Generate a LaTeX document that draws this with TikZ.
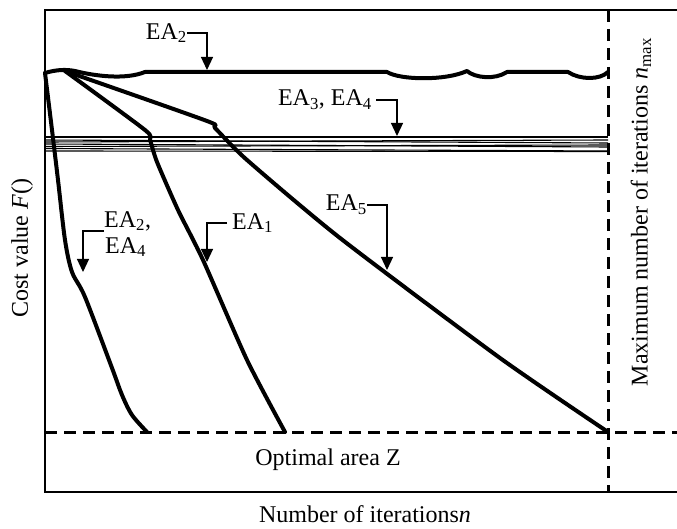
\documentclass[tikz,border=0pt]{standalone}
\usepackage{fontspec}
\setmainfont{Liberation Serif}
\usetikzlibrary{arrows.meta}
\begin{document}
\begin{tikzpicture}[x=1pt,y=-1pt,
  frame/.style={line width=2pt},
  curve/.style={line width=4pt,line join=round,line cap=round},
  dashln/.style={line width=3pt,dash pattern=on 12pt off 7pt},
  thin/.style={line width=1.1pt},
  arr/.style={line width=1.2pt,-{Triangle[length=13pt,width=12pt]}},
  lab/.style={font=\fontsize{24}{26}\selectfont,inner sep=0pt},
  every node/.style={font=\fontsize{24}{26}\selectfont}]
\useasboundingbox (0,0) rectangle (677,529);
% frame
\draw[frame] (677,10) -- (45,10) -- (45,492) -- (677,492);
% dashed lines
\draw[dashln] (608,10) -- (608,492);
\draw[dashln] (45,432) -- (677,432);
% bundle of EA3, EA4
\draw[line width=2pt] (45,137.5) -- (608,137.5);
\draw[thin] (45,140) -- (608,143);
\draw[thin] (45,142) -- (608,140);
\draw[thin] (45,144) -- (608,147);
\draw[thin] (45,146.5) -- (608,145);
\draw[thin] (45,148.5) -- (608,151);
\draw[thin] (45,151) -- (608,151.5);
% EA2 top wavy curve
\draw[curve] (45,73) .. controls (55,70) and (65,69) .. (75,71)
  .. controls (95,76) and (125,80) .. (145,72) -- (387,72)
  .. controls (400,80) and (445,81) .. (467,71)
  .. controls (475,78) and (495,80) .. (507,72) -- (568,72)
  .. controls (580,80) and (600,80) .. (608,72);
% EA2, EA4 steep curve
\draw[curve] plot[smooth,tension=0.5] coordinates {(45,73) (52,130) (58,180) (65,240) (72,272) (85,297) (112,368) (122,395) (132,415) (147,432)};
% EA1
\draw[curve] plot[smooth,tension=0.4] coordinates {(65,71) (145,130) (150,140) (157,162) (178,210) (203,260) (247,360) (285,432)};
% EA5
\draw[curve] plot[smooth,tension=0.4] coordinates {(65,71) (207,121) (215,128) (247,160) (340,238) (500,358) (608,432)};
% labels
\node[lab,anchor=east] (lEAtwo) at (187,33) {EA\textsubscript{2}};
\coordinate (tEAtwo) at (207,70);
\draw[arr] (lEAtwo.east) -| (tEAtwo);
\node[lab,anchor=east] (lEAthree) at (372,100) {EA\textsubscript{3}, EA\textsubscript{4}};
\coordinate (tEAthree) at (397,136);
\draw[arr] ([xshift=4pt]lEAthree.east) -| (tEAthree);
\node[lab,anchor=east] (lEAfive) at (367,205) {EA\textsubscript{5}};
\coordinate (tEAfive) at (387,270);
\draw[arr] (lEAfive.east) -| (tEAfive);
\node[lab,anchor=west] (lEAone) at (232,223) {EA\textsubscript{1}};
\coordinate (tEAone) at (207,262);
\draw[arr] ([xshift=-5pt]lEAone.west) -| (tEAone);
\node[lab,align=center,anchor=west] (lEAtf) at (104,234) {EA\textsubscript{2},\\EA\textsubscript{4}\,};
\coordinate (tEAtf) at (83,272);
\draw[arr] (lEAtf.west |- 0,231) -| (tEAtf);
% axis texts
\node (opt) at (328,460) {Optimal area Z};
\node (xlab) at (365,514) {Number of iterations\textit{n}};
\node[rotate=90] (ylab) at (22,248) {Cost value \textit{F}()};
\node[rotate=90] (nmax) at (641,212) {Maximum number of iterations \textit{n}\textsubscript{max}};
\end{tikzpicture}
\end{document}
